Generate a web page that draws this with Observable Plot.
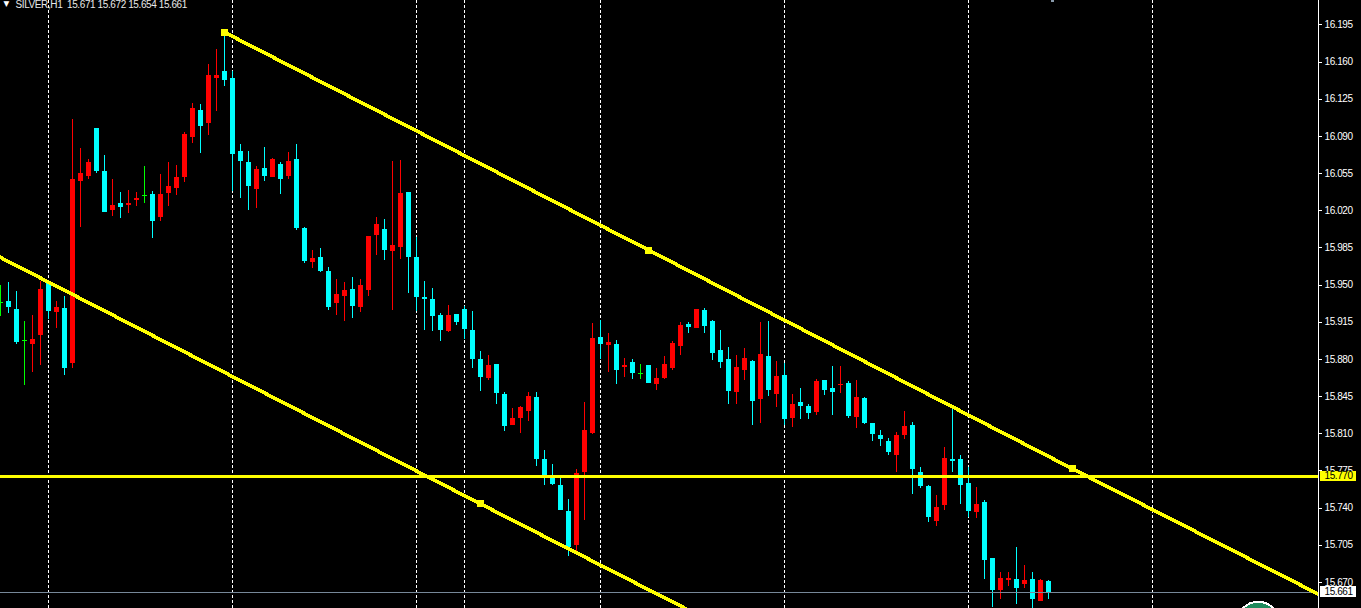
<!DOCTYPE html>
<html>
<head>
<meta charset="utf-8">
<script src="https://cdn.jsdelivr.net/npm/d3@7"></script>
<script src="https://cdn.jsdelivr.net/npm/@observablehq/plot@0.6"></script>
<style>
html,body{margin:0;padding:0;background:#000;overflow:hidden}
svg{display:block;shape-rendering:crispEdges}
svg text{letter-spacing:-0.4px}
</style>
</head>
<body>
<div id="chart"></div>
<script>
const opens = [15.934,15.935,15.927,15.898,15.894,15.903,15.952,15.924,15.928,15.876,
16.048,16.052,16.097,16.057,16.020,16.027,16.025,16.030,16.034,16.035,
16.014,16.036,16.041,16.051,16.089,16.114,16.102,16.145,16.151,16.145,
16.076,16.065,16.040,16.060,16.051,16.064,16.052,16.068,16.003,15.971,
15.976,15.963,15.933,15.939,15.946,15.929,15.945,15.997,16.002,15.982,
15.985,16.037,15.976,15.938,15.936,15.921,15.906,15.922,15.927,15.907,
15.880,15.862,15.875,15.847,15.818,15.824,15.831,15.844,15.786,15.770,
15.761,15.737,15.705,15.774,15.810,15.901,15.893,15.894,15.872,15.877,
15.867,15.874,15.856,15.862,15.871,15.892,15.913,15.909,15.926,15.916,
15.888,15.880,15.849,15.870,15.878,15.842,15.883,15.847,15.865,15.824,
15.839,15.836,15.830,15.860,15.853,15.855,15.857,15.825,15.843,15.820,
15.808,15.803,15.790,15.808,15.818,15.774,15.760,15.727,15.742,15.786,
15.786,15.763,15.736,15.745,15.693,15.662,15.672,15.673,15.668,15.673,
15.652,15.671];
const closes = [15.934,15.929,15.896,15.898,15.899,15.946,15.925,15.929,15.871,16.049,
16.055,16.065,16.057,16.018,16.025,16.023,16.027,16.032,16.034,16.010,
16.035,16.043,16.051,16.092,16.116,16.099,16.147,16.147,16.143,16.073,
16.066,16.043,16.059,16.052,16.068,16.049,16.066,16.003,15.972,15.975,
15.963,15.929,15.941,15.945,15.930,15.950,15.996,16.007,15.983,15.987,
16.036,15.976,15.938,15.936,15.920,15.907,15.921,15.915,15.908,15.880,
15.863,15.874,15.848,15.817,15.824,15.835,15.845,15.786,15.770,15.762,
15.738,15.703,15.773,15.813,15.900,15.894,15.896,15.870,15.874,15.867,
15.867,15.857,15.862,15.875,15.895,15.912,15.910,15.927,15.911,15.886,
15.877,15.850,15.872,15.881,15.840,15.885,15.851,15.864,15.823,15.838,
15.836,15.829,15.859,15.851,15.849,15.856,15.826,15.844,15.820,15.809,
15.805,15.792,15.808,15.817,15.776,15.760,15.731,15.741,15.787,15.784,
15.761,15.737,15.743,15.691,15.662,15.674,15.674,15.664,15.672,15.654,
15.672,15.661];
const highs = [15.950,15.952,15.944,15.916,15.921,15.953,15.954,15.935,15.939,16.106,
16.079,16.068,16.097,16.072,16.049,16.037,16.039,16.037,16.062,16.038,
16.054,16.065,16.063,16.094,16.121,16.120,16.158,16.172,16.188,16.151,
16.082,16.076,16.062,16.080,16.069,16.065,16.075,16.082,16.004,15.983,
15.984,15.967,15.955,15.952,15.957,15.955,15.996,16.014,16.012,16.066,
16.067,16.037,15.995,15.953,15.947,15.923,15.931,15.922,15.930,15.925,
15.887,15.884,15.875,15.849,15.834,15.836,15.849,15.849,15.794,15.781,
15.768,15.748,15.776,15.839,15.914,15.917,15.904,15.898,15.881,15.880,
15.875,15.874,15.871,15.883,15.897,15.915,15.915,15.927,15.928,15.917,
15.907,15.891,15.884,15.890,15.879,15.915,15.916,15.878,15.876,15.847,
15.853,15.838,15.861,15.860,15.873,15.873,15.859,15.860,15.844,15.820,
15.813,15.806,15.811,15.831,15.821,15.778,15.761,15.752,15.797,15.834,
15.790,15.778,15.759,15.747,15.693,15.679,15.679,15.703,15.686,15.679,
15.673,15.672];
const lows = [15.920,15.923,15.894,15.855,15.868,15.874,15.918,15.909,15.865,15.871,
16.004,16.049,16.055,16.018,16.015,16.013,16.017,16.024,16.027,15.994,
16.010,16.024,16.034,16.047,16.083,16.074,16.091,16.113,16.137,16.038,
16.032,16.020,16.022,16.048,16.051,16.035,16.049,16.001,15.970,15.966,
15.962,15.926,15.921,15.916,15.919,15.924,15.939,15.978,15.973,15.926,
15.974,15.942,15.925,15.907,15.906,15.897,15.905,15.912,15.899,15.871,
15.850,15.860,15.838,15.812,15.818,15.810,15.822,15.779,15.761,15.761,
15.738,15.694,15.698,15.728,15.809,15.880,15.868,15.856,15.863,15.861,
15.861,15.857,15.851,15.861,15.870,15.884,15.904,15.909,15.904,15.879,
15.871,15.838,15.838,15.860,15.818,15.820,15.845,15.835,15.818,15.816,
15.823,15.823,15.827,15.846,15.827,15.848,15.824,15.815,15.819,15.803,
15.798,15.790,15.774,15.805,15.753,15.758,15.726,15.723,15.738,15.774,
15.743,15.731,15.730,15.673,15.646,15.654,15.666,15.649,15.664,15.645,
15.652,15.654];

const yTicks = [16.195,16.160,16.125,16.090,16.055,16.020,15.985,15.950,15.915,15.880,15.845,15.810,15.775,15.740,15.705,15.670];
const periodBars = [6,29,52,58,75,98,121,144];
const upperBars = [28,81,134,165];
const upperPrices = [16.188,15.983,15.777,15.658];
const lowerBars = [-1,0,60,86];
const lowerPrices = [15.980,15.976,15.744,15.644];
const upperAnchors = [0,1,2];
const lowerAnchors = [2];
const levelPrice = 15.770;
const lastPrice = 15.661;
const header = "SILVER,H1\u00a0\u00a015.671 15.672 15.654 15.661";

const UP = "#ff0000", DOWN = "#00ffff", FLAT = "#00ff00", LINE = "#ffff00", LAST = "#778899";
const candles = opens.map((o,i)=>({i,o,c:closes[i],h:highs[i],l:lows[i],
  color:o===closes[i]?FLAT:closes[i]>o?UP:DOWN}));
const bodies = candles.filter(d=>d.o!==d.c);
const dojis = candles.filter(d=>d.o===d.c);
const upper = upperBars.map((b,i)=>({b,p:upperPrices[i]}));
const lower = lowerBars.map((b,i)=>({b,p:lowerPrices[i]}));
const anchors = [...upperAnchors.map(i=>upper[i]),...lowerAnchors.map(i=>lower[i])];
const labelX = 165.5, boxX1 = 165, boxX2 = 169.5;
const frameBar = 164.75;
const font = {fontFamily:"'Liberation Sans',sans-serif",fontSize:10};

const chart = Plot.plot({
  width:1361,height:608,marginLeft:0,marginRight:43,marginTop:0,marginBottom:0,
  style:{background:"#000",color:"#fff",...font},
  x:{domain:[0,frameBar],range:[0,1318],axis:null},
  y:{domain:[16.195,15.670],range:[24.4,581.95],axis:null},
  marks:[
    Plot.ruleX(periodBars,{x:d=>d,stroke:"#fff",strokeDasharray:"3 2",strokeWidth:1}),
    Plot.ruleX(candles,{x:"i",y1:"h",y2:"l",stroke:"color",strokeWidth:1,clip:"frame"}),
    Plot.ruleX(bodies,{x:"i",y1:"o",y2:"c",stroke:"color",strokeWidth:5,clip:"frame"}),
    Plot.ruleY(dojis,{y:"o",x1:d=>d.i-0.3125,x2:d=>d.i+0.3125,stroke:"color",clip:"frame"}),
    Plot.ruleY([lastPrice],{stroke:LAST,strokeWidth:1,clip:"frame"}),
    Plot.ruleY([levelPrice],{stroke:LINE,strokeWidth:3,clip:"frame"}),
    Plot.line(upper,{x:"b",y:"p",stroke:LINE,strokeWidth:3.6,clip:"frame"}),
    Plot.line(lower,{x:"b",y:"p",stroke:LINE,strokeWidth:3.6,clip:"frame"}),
    Plot.dot(anchors,{x:"b",y:"p",symbol:"square",r:3.9,fill:LINE,stroke:null}),
    Plot.dot([{b:157.2,p:15.632}],{x:"b",y:"p",r:21,fill:"#1f8a5c",stroke:"#fff",strokeWidth:2}),
    Plot.dot([{b:131.5,p:16.218}],{x:"b",y:"p",r:1.5,fill:"#8899aa",stroke:null}),
    Plot.ruleX([frameBar],{stroke:"#fff",strokeWidth:1}),
    Plot.axisY(yTicks,{anchor:"right",tickSize:3,tickPadding:3,stroke:"#fff",fill:"#fff",label:null,
      tickFormat:d=>d.toFixed(3),...font}),
    Plot.rect([levelPrice],{x1:boxX1,x2:boxX2,y1:d=>d+0.0048,y2:d=>d-0.0048,fill:LINE}),
    Plot.rect([lastPrice],{x1:boxX1,x2:boxX2,y1:d=>d+0.0048,y2:d=>d-0.0048,fill:"#fff"}),
    Plot.text([levelPrice],{x:labelX,y:d=>d,text:d=>d.toFixed(3),fill:"#000",textAnchor:"start",...font}),
    Plot.text([lastPrice],{x:labelX,y:d=>d,text:d=>d.toFixed(3),fill:"#000",textAnchor:"start",...font}),
    Plot.text([header],{frameAnchor:"top-left",dx:15,dy:0,lineAnchor:"top",text:d=>d,fill:"#e8e8e8",textAnchor:"start",...font}),
    Plot.text(["▼"],{frameAnchor:"top-left",dx:3,dy:0,lineAnchor:"top",text:d=>d,fill:"#fff",textAnchor:"start",fontFamily:"DejaVu Sans",fontSize:7.5})
  ]
});
document.getElementById("chart").append(chart);
</script>
</body>
</html>
